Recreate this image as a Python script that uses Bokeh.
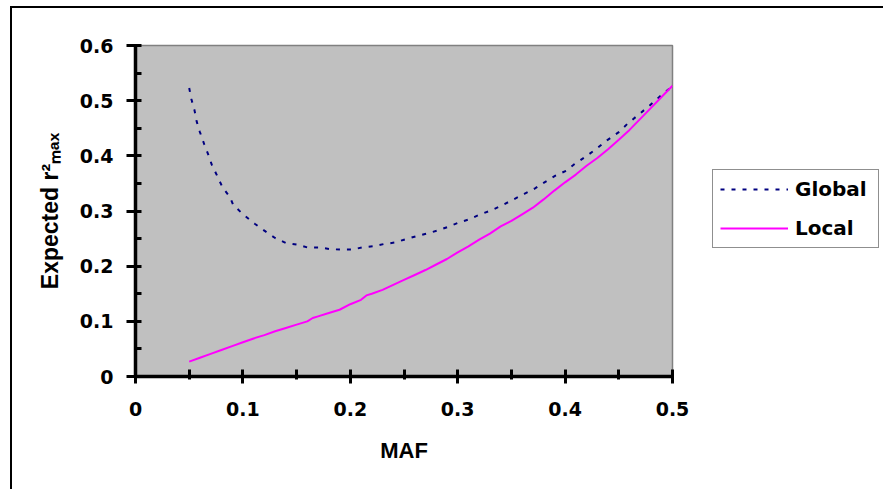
from bokeh.plotting import figure
from bokeh.models import Range1d, FixedTicker, Legend, LegendItem
from bokeh.embed import file_html
from bokeh.resources import INLINE

# ---- data ----
global_maf = [0.050, 0.052, 0.055, 0.057, 0.060, 0.064, 0.068, 0.071, 0.076, 0.081,
              0.088, 0.091, 0.098, 0.102, 0.111, 0.121, 0.130, 0.140, 0.151, 0.160,
              0.171, 0.181, 0.191, 0.202, 0.211, 0.221, 0.231, 0.242, 0.250, 0.261,
              0.271, 0.282, 0.292, 0.301, 0.311, 0.321, 0.331, 0.342, 0.352, 0.362,
              0.372, 0.380, 0.391, 0.401, 0.408, 0.418, 0.428, 0.439, 0.450, 0.458,
              0.468, 0.478, 0.489, 0.500]
global_r2 = [0.523, 0.503, 0.482, 0.462, 0.443, 0.421, 0.401, 0.384, 0.364, 0.343,
             0.325, 0.311, 0.298, 0.291, 0.277, 0.263, 0.251, 0.242, 0.239, 0.234,
             0.234, 0.231, 0.230, 0.230, 0.234, 0.236, 0.240, 0.243, 0.248, 0.254,
             0.259, 0.265, 0.272, 0.279, 0.285, 0.294, 0.301, 0.311, 0.321, 0.331,
             0.341, 0.351, 0.364, 0.373, 0.384, 0.397, 0.411, 0.428, 0.443, 0.458,
             0.474, 0.490, 0.509, 0.526]

local_maf = [0.05, 0.06, 0.07, 0.08, 0.09, 0.10, 0.11, 0.12, 0.13, 0.14, 0.15, 0.16,
             0.165, 0.17, 0.18, 0.19, 0.20, 0.21, 0.215, 0.22, 0.23, 0.24, 0.25, 0.26,
             0.27, 0.28, 0.29, 0.30, 0.31, 0.32, 0.33, 0.34, 0.35, 0.36, 0.37, 0.38,
             0.39, 0.40, 0.41, 0.42, 0.43, 0.44, 0.45, 0.46, 0.47, 0.48, 0.49, 0.50]
local_r2 = [0.027, 0.034, 0.041, 0.048, 0.055, 0.062, 0.069, 0.075, 0.082, 0.088, 0.094, 0.100,
            0.106, 0.109, 0.115, 0.121, 0.131, 0.139, 0.147, 0.150, 0.157, 0.166, 0.175, 0.184,
            0.193, 0.203, 0.213, 0.225, 0.236, 0.248, 0.259, 0.272, 0.282, 0.294, 0.306, 0.321,
            0.337, 0.352, 0.366, 0.382, 0.396, 0.412, 0.429, 0.447, 0.467, 0.487, 0.507, 0.527]

x_ticks = [0, 0.1, 0.2, 0.3, 0.4, 0.5]
x_tick_labels = ["0", "0.1", "0.2", "0.3", "0.4", "0.5"]
x_minor = [0.05, 0.15, 0.25, 0.35, 0.45]
y_ticks = [0, 0.1, 0.2, 0.3, 0.4, 0.5, 0.6]
y_tick_labels = ["0", "0.1", "0.2", "0.3", "0.4", "0.5", "0.6"]
y_minor = [0.05, 0.15, 0.25, 0.35, 0.45, 0.55]

series_names = ["Global", "Local"]
x_title = "MAF"
y_title = "Expected r\u00b2\u2098\u2090\u2093"

TICK_FONT = "DejaVu Sans"
TITLE_FONT = "Liberation Sans"

p = figure(frame_width=537, frame_height=331, output_backend="svg", toolbar_location=None,
           x_range=Range1d(0, 0.5), y_range=Range1d(0, 0.6),
           min_border_left=123, min_border_right=210, min_border_top=37, min_border_bottom=113,
           background_fill_color="#C0C0C0", border_fill_color="white",
           outline_line_color="#808080", outline_line_width=1.5)
p.styles = {"border-left": "2px solid black", "border-top": "2px solid black",
            "margin-left": "10px", "margin-top": "6px"}

p.xgrid.visible = False
p.ygrid.visible = False

p.xaxis.ticker = FixedTicker(ticks=x_ticks, minor_ticks=x_minor)
p.yaxis.ticker = FixedTicker(ticks=y_ticks, minor_ticks=y_minor)
p.xaxis.major_label_overrides = {t: s for t, s in zip(x_ticks, x_tick_labels)}
p.yaxis.major_label_overrides = {t: s for t, s in zip(y_ticks, y_tick_labels)}

for ax in (p.xaxis[0], p.yaxis[0]):
    ax.axis_line_color = "black"
    ax.axis_line_width = 3.5
    ax.major_tick_line_color = "black"
    ax.major_tick_line_width = 3
    ax.minor_tick_line_color = "black"
    ax.minor_tick_line_width = 3
    ax.major_label_text_font = TICK_FONT
    ax.major_label_text_font_style = "bold"
    ax.major_label_text_font_size = "19px"
    ax.major_label_text_color = "black"
    ax.axis_label_text_font = TITLE_FONT
    ax.axis_label_text_font_style = "bold"
    ax.axis_label_text_color = "black"

p.xaxis.major_tick_in = 7
p.xaxis.major_tick_out = 7
p.xaxis.minor_tick_in = 7
p.xaxis.minor_tick_out = 3
p.xaxis.major_label_standoff = 18

p.yaxis.major_tick_in = 6
p.yaxis.major_tick_out = 9
p.yaxis.minor_tick_in = 6
p.yaxis.minor_tick_out = 0
p.yaxis.major_label_standoff = 13

p.xaxis.axis_label = x_title
p.xaxis.axis_label_text_font_size = "22px"
p.xaxis.axis_label_standoff = 19

p.yaxis.axis_label = y_title
p.yaxis.axis_label_text_font_size = "23px"
p.yaxis.axis_label_standoff = 14

r_g = p.line(global_maf, global_r2, line_color="#000080", line_width=2, line_dash="4 7")
r_l = p.line(local_maf, local_r2, line_color="#FF00FF", line_width=2)

legend = Legend(items=[LegendItem(label=series_names[0], renderers=[r_g]),
                       LegendItem(label=series_names[1], renderers=[r_l])],
                location=(40, 128), orientation="vertical",
                glyph_width=68, glyph_height=20, label_height=20, label_width=76,
                label_standoff=7, spacing=15, padding=7, margin=0,
                label_text_font=TICK_FONT, label_text_font_style="bold",
                label_text_font_size="20px", label_text_color="black",
                label_text_baseline="middle",
                border_line_color="#202020", border_line_width=1.5,
                background_fill_color="white", background_fill_alpha=1.0)
p.add_layout(legend, "right")

open("out.html", "w").write(file_html(p, INLINE))
